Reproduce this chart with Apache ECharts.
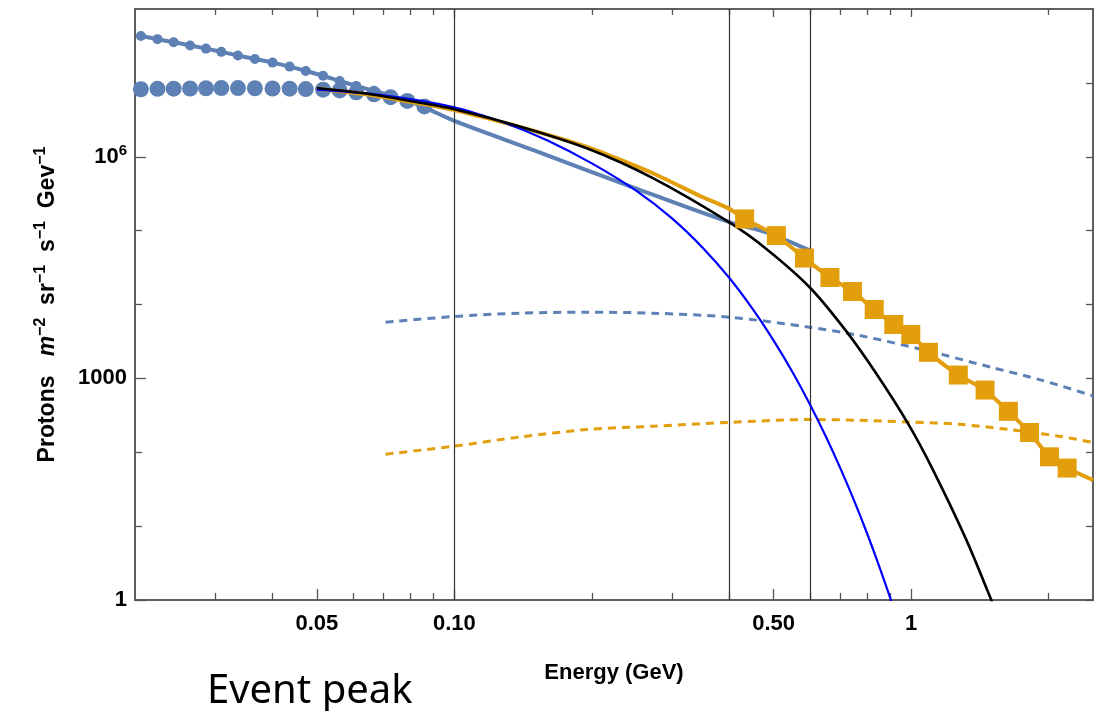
<!DOCTYPE html>
<html><head><meta charset="utf-8">
<script src="https://cdn.jsdelivr.net/npm/echarts@6/dist/echarts.min.js"></script>
<style>html,body{margin:0;padding:0;background:#fff}#c{width:1094px;height:711px}</style>
</head><body><div id="c"></div>
<script>
// ---- axis ticks / labels ----
const xLabelValues = [0.05, 0.1, 0.5, 1];
const xLabelTexts = ['0.05', '0.10', '0.50', '1'];
const xMinorTicks = [0.03, 0.04, 0.06, 0.07, 0.08, 0.09, 0.2, 0.3, 0.4, 0.6, 0.7, 0.8, 0.9, 2];
const yLabelValues = [1, 1000, 1e6];
const yMinorTicks = [10, 100, 1e4, 1e5, 1e7];
const markerEnergies = [0.1, 0.4, 0.6];

// ---- data (Energy GeV, flux) ----
const dotEnergy = [0.0206, 0.0224, 0.0243, 0.0264, 0.0286, 0.0309, 0.0336, 0.0366, 0.0400, 0.0436, 0.0473, 0.0516, 0.0561, 0.0610, 0.0667, 0.0725, 0.0789, 0.0860];
const smallDotFlux = [4.32e7, 3.91e7, 3.55e7, 3.21e7, 2.91e7, 2.63e7, 2.35e7, 2.11e7, 1.88e7, 1.66e7, 1.45e7, 1.25e7, 1.06e7, 9.1e6, 7.8e6, 6.7e6, 5.7e6, 4.67e6];
const largeDotFlux = [8.2e6, 8.3e6, 8.35e6, 8.4e6, 8.45e6, 8.5e6, 8.5e6, 8.45e6, 8.4e6, 8.35e6, 8.25e6, 8.1e6, 7.9e6, 7.45e6, 7.0e6, 6.4e6, 5.7e6, 4.8e6];
const steelTailEnergy = [0.1, 0.15, 0.246, 0.40, 0.482, 0.60];
const steelTailFlux = [3.06e6, 1.21e6, 3.85e5, 1.30e5, 9.5e4, 5.4e4];

const blackEnergy = [0.05, 0.065, 0.0843, 0.1, 0.139, 0.195, 0.272, 0.40, 0.482, 0.60, 0.72, 0.837, 0.985, 1.113, 1.316, 1.505, 1.6];
const blackFlux = [8.51e6, 7.08e6, 5.37e6, 4.40e6, 2.57e6, 1.30e6, 5.13e5, 1.29e5, 5.64e4, 1.70e4, 4.39e3, 1.18e3, 242, 59.7, 6.82, 0.92, 0.34];

const blueEnergy = [0.05, 0.07, 0.1, 0.13, 0.16, 0.2, 0.25, 0.3, 0.35, 0.4, 0.45, 0.5, 0.55, 0.6, 0.65, 0.7, 0.75, 0.8, 0.85, 0.9, 0.95];
const blueFlux = [8.09e6, 6.78e6, 4.68e6, 2.82e6, 1.66e6, 8.13e5, 3.47e5, 1.45e5, 5.82e4, 2.28e4, 8.65e3, 3.24e3, 1.21e3, 448, 165, 60.5, 22.1, 8.07, 2.93, 1.06, 0.385];

const orangeHeadEnergy = [0.05, 0.065, 0.0843, 0.1, 0.139, 0.195, 0.272, 0.344, 0.40];
const orangeHeadFlux = [8.32e6, 6.92e6, 5.25e6, 4.27e6, 2.54e6, 1.36e6, 5.98e5, 2.97e5, 1.97e5];
const squareEnergy = [0.432, 0.507, 0.584, 0.664, 0.744, 0.830, 0.916, 0.998, 1.091, 1.268, 1.451, 1.632, 1.816, 2.008, 2.194];
const squareFlux = [1.44e5, 8.56e4, 4.25e4, 2.32e4, 1.50e4, 8.56e3, 5.37e3, 3.93e3, 2.25e3, 1.11e3, 695, 358, 185, 86.7, 61.1];
const orangeTailEnergy = [2.5];
const orangeTailFlux = [42];

const blueDashEnergy = [0.0707, 0.1, 0.139, 0.195, 0.272, 0.40, 0.599, 0.770, 1.077, 1.505, 1.935, 2.5];
const blueDashFlux = [5.77e3, 6.89e3, 7.63e3, 7.87e3, 7.63e3, 6.74e3, 4.93e3, 3.81e3, 2.39e3, 1.40e3, 940, 580];
const orangeDashEnergy = [0.0707, 0.1, 0.139, 0.195, 0.272, 0.40, 0.599, 0.770, 0.990, 1.273, 1.637, 2.104, 2.5];
const orangeDashFlux = [94, 121, 161, 203, 225, 254, 277, 271, 257, 239, 203, 165, 136];

// ---- build ----
function pairs(xs, ys) { return xs.map((x, i) => [x, ys[i]]); }
const FONT = '"Liberation Sans", Arial, sans-serif';
const AX = '#555';
const STEEL = '#5E81B5';
const ORANGE = '#E39E0C';

function near(a, b) { return Math.abs(Math.log(a / b)) < 1e-6; }

function xAxisDef(position, ticks, len, withLabels) {
  return {
    type: 'log', logBase: 10, min: 0.02, max: 2.5, position: position,
    axisLine: { show: true, onZero: false, lineStyle: { color: AX, width: 1.5 } },
    axisTick: { show: true, inside: true, length: len, customValues: ticks, lineStyle: { color: AX, width: 1.3 } },
    axisLabel: withLabels ? {
      show: true, customValues: xLabelValues, margin: 13,
      color: '#000', fontSize: 22, fontWeight: 'bold', fontFamily: FONT,
      formatter: v => { for (let i = 0; i < xLabelValues.length; i++) if (near(v, xLabelValues[i])) return xLabelTexts[i]; return ''; }
    } : { show: false },
    splitLine: { show: false }, minorTick: { show: false }
  };
}
function yAxisDef(position, ticks, len, withLabels) {
  return {
    type: 'log', logBase: 10, min: 1, max: 1e8, position: position,
    axisLine: { show: true, onZero: false, lineStyle: { color: AX, width: 1.5 } },
    axisTick: { show: true, inside: true, length: len, customValues: ticks, lineStyle: { color: AX, width: 1.3 } },
    axisLabel: withLabels ? {
      show: true, customValues: yLabelValues, margin: 8,
      color: '#000', fontSize: 22, fontWeight: 'bold', fontFamily: FONT,
      formatter: v => near(v, 1e6) ? '{b|10}{s|6}' : (near(v, 1000) ? '1000' : (near(v, 1) ? '1' : '')),
      rich: {
        b: { fontSize: 22, fontWeight: 'bold', fontFamily: FONT, color: '#000' },
        s: { fontSize: 15, fontWeight: 'bold', fontFamily: FONT, color: '#000', padding: [0, 0, 12, 0] }
      }
    } : { show: false },
    splitLine: { show: false }, minorTick: { show: false }
  };
}

const xAxes = [
  Object.assign(xAxisDef('bottom', xLabelValues, 11, true), {
    name: 'Energy (GeV)', nameLocation: 'middle', nameGap: 62,
    nameTextStyle: { color: '#000', fontSize: 22, fontWeight: 'bold', fontFamily: FONT }
  }),
  xAxisDef('bottom', xMinorTicks, 7, false),
  xAxisDef('top', xLabelValues, 8, false),
  xAxisDef('top', xMinorTicks, 6, false)
];
const yAxes = [
  Object.assign(yAxisDef('left', yLabelValues, 11, true), {
    name: 'Protons   {i|m}{s|−2}  sr{s|−1}  s{s|−1}  Gev{s|−1}', nameLocation: 'middle', nameGap: 72, nameRotate: 90,
    nameTextStyle: {
      color: '#000', fontSize: 23, fontWeight: 'bold', fontFamily: FONT,
      rich: {
        i: { fontSize: 23, fontStyle: 'italic', fontWeight: 'bold', fontFamily: FONT, color: '#000' },
        s: { fontSize: 16, fontWeight: 'bold', fontFamily: FONT, color: '#000', padding: [0, 0, 14, 0] }
      }
    }
  }),
  yAxisDef('left', yMinorTicks, 7, false),
  yAxisDef('right', yLabelValues, 7, false),
  yAxisDef('right', yMinorTicks, 7, false)
];

const curve = { smooth: 0.3, showSymbol: false };

const option = {
  animation: false,
  backgroundColor: '#fff',
  grid: { left: 135, right: 1, top: 9, bottom: 111, containLabel: false },
  xAxis: xAxes,
  yAxis: yAxes,
  graphic: [{
    type: 'text', left: 207, top: 672,
    style: { text: 'Event peak', font: '40px "Noto Sans", "Open Sans", sans-serif', fill: '#000' }
  }],
  series: [
    { type: 'line', name: 'markers', data: [], z: 1, silent: true,
      markLine: { silent: true, symbol: ['none', 'none'], label: { show: false },
        lineStyle: { color: '#333', width: 1.2, type: 'solid' },
        data: markerEnergies.map(e => ({ xAxis: e })) } },
    Object.assign({ type: 'line', name: 'blueDash', data: pairs(blueDashEnergy, blueDashFlux), z: 2,
      lineStyle: { color: STEEL, width: 3, type: [8, 6] } }, curve),
    Object.assign({ type: 'line', name: 'orangeDash', data: pairs(orangeDashEnergy, orangeDashFlux), z: 2,
      lineStyle: { color: ORANGE, width: 3, type: [8, 6] } }, curve),
    Object.assign({ type: 'line', name: 'steelFit', data: pairs(dotEnergy, smallDotFlux).concat(pairs(steelTailEnergy, steelTailFlux)), z: 3,
      lineStyle: { color: STEEL, width: 4 } }, curve),
    { type: 'scatter', name: 'smallDots', data: pairs(dotEnergy, smallDotFlux), symbol: 'circle', symbolSize: 10, z: 4,
      itemStyle: { color: STEEL, opacity: 1 } },
    { type: 'scatter', name: 'largeDots', data: pairs(dotEnergy, largeDotFlux), symbol: 'circle', symbolSize: 16, z: 4,
      itemStyle: { color: STEEL, opacity: 1 } },
    { type: 'line', name: 'orangeFit', data: pairs(orangeHeadEnergy, orangeHeadFlux).concat(pairs(squareEnergy, squareFlux)).concat(pairs(orangeTailEnergy, orangeTailFlux)),
      smooth: 0.2, showSymbol: false, z: 5, lineStyle: { color: ORANGE, width: 4 } },
    Object.assign({ type: 'line', name: 'blue', data: pairs(blueEnergy, blueFlux), z: 6,
      lineStyle: { color: '#0000FF', width: 2.2 } }, curve),
    Object.assign({ type: 'line', name: 'black', data: pairs(blackEnergy, blackFlux), z: 7,
      lineStyle: { color: '#000', width: 2.6 } }, curve),
    { type: 'scatter', name: 'squares', data: pairs(squareEnergy, squareFlux), symbol: 'rect', symbolSize: 19, z: 8,
      itemStyle: { color: ORANGE, opacity: 1 } }
  ]
};
const chart = echarts.init(document.getElementById('c'), null, { renderer: 'canvas' });
chart.setOption(option);
</script></body></html>
